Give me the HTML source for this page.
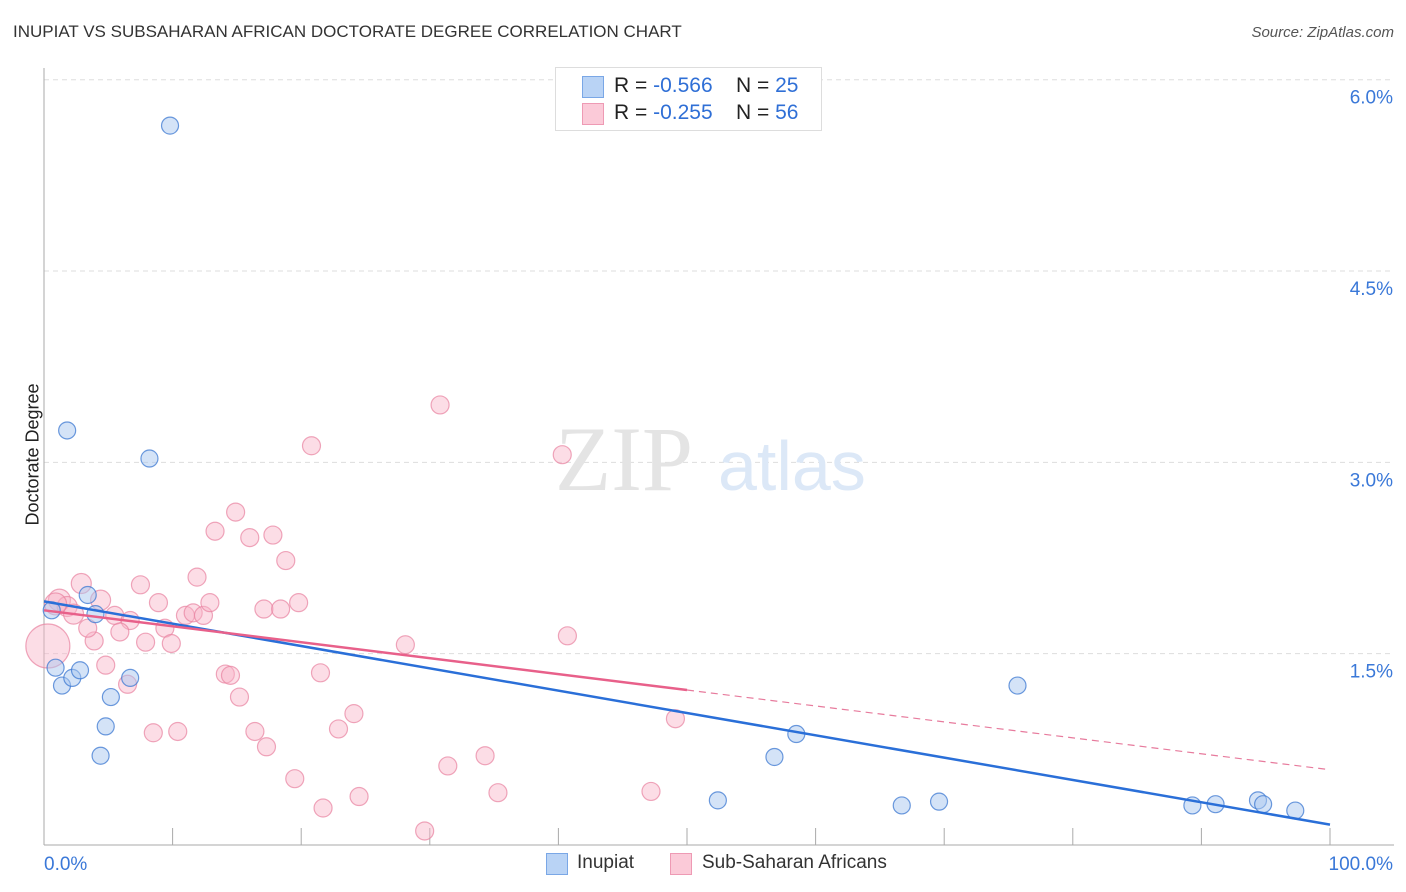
<!DOCTYPE html>
<html><head><meta charset="utf-8">
<style>
body{margin:0;background:#fff;font-family:"Liberation Sans",sans-serif;}
#wrap{position:relative;width:1406px;height:892px;overflow:hidden;}
.t{position:absolute;white-space:nowrap;}
</style></head>
<body>
<div id="wrap">
<div class="t" style="left:13px;top:22px;font-size:17px;color:#333;">INUPIAT VS SUBSAHARAN AFRICAN DOCTORATE DEGREE CORRELATION CHART</div>
<div class="t" style="right:12px;top:24px;font-size:15px;color:#555;font-style:italic;">Source: ZipAtlas.com</div>
<svg id="svg" width="1406" height="892" style="position:absolute;left:0;top:0"></svg>
<div class="t" style="left:-38px;top:444px;font-size:18px;color:#222;transform:rotate(-90deg);">Doctorate Degree</div>
<div style="position:absolute;left:555px;top:67px;width:265px;height:62px;border:1px solid #ddd;background:#fff;font-size:21px;">
 <div style="position:absolute;left:26px;top:8px;width:20px;height:20px;background:#b9d3f5;border:1px solid #7aa7e6;"></div>
 <div class="t" style="left:58px;top:6px;color:#222;">R = <span style="color:#2f6fd6">-0.566</span>&nbsp;&nbsp;&nbsp; N = <span style="color:#2f6fd6">25</span></div>
 <div style="position:absolute;left:26px;top:35px;width:20px;height:20px;background:#fbcad8;border:1px solid #ee9ab4;"></div>
 <div class="t" style="left:58px;top:33px;color:#222;">R = <span style="color:#2f6fd6">-0.255</span>&nbsp;&nbsp;&nbsp; N = <span style="color:#2f6fd6">56</span></div>
</div>
<div style="position:absolute;left:546px;top:853px;width:20px;height:20px;background:#b9d3f5;border:1px solid #7aa7e6;"></div>
<div class="t" style="left:577px;top:852px;font-size:19px;color:#333;">Inupiat</div>
<div style="position:absolute;left:670px;top:853px;width:20px;height:20px;background:#fbcad8;border:1px solid #ee9ab4;"></div>
<div class="t" style="left:702px;top:852px;font-size:19px;color:#333;">Sub-Saharan Africans</div>
</div>
<script>
const yTicks=[1.5,3.0,4.5,6.0];
const yTickLabels=["1.5%","3.0%","4.5%","6.0%"];
const xTickLabels=["0.0%","100.0%"];
const inupiatX=[9.8,1.8,8.2,0.6,3.4,4.0,0.9,1.4,2.2,2.8,6.7,5.2,4.8,4.4,75.7,58.5,56.8,52.4,66.7,69.6,89.3,91.1,94.4,94.8,97.3];
const inupiatY=[5.64,3.25,3.03,1.84,1.96,1.81,1.39,1.25,1.31,1.37,1.31,1.16,0.93,0.70,1.25,0.87,0.69,0.35,0.31,0.34,0.31,0.32,0.35,0.32,0.27];
const subX=[30.8,20.8,40.3,14.9,13.3,16.0,17.8,18.8,2.9,7.5,11.9,8.9,4.4,1.2,1.8,2.3,0.9,5.5,6.7,5.9,3.9,3.4,9.4,7.9,9.9,11.0,11.6,12.4,12.9,17.1,18.4,19.8,28.1,40.7,4.8,6.5,14.1,14.5,21.5,15.2,8.5,10.4,16.4,17.3,22.9,24.1,49.1,34.3,31.4,19.5,35.3,24.5,21.7,47.2,29.6,0.3];
const subY=[3.45,3.13,3.06,2.61,2.46,2.41,2.43,2.23,2.05,2.04,2.10,1.90,1.92,1.92,1.87,1.81,1.89,1.80,1.76,1.67,1.60,1.70,1.70,1.59,1.58,1.80,1.82,1.80,1.90,1.85,1.85,1.90,1.57,1.64,1.41,1.26,1.34,1.33,1.35,1.16,0.88,0.89,0.89,0.77,0.91,1.03,0.99,0.70,0.62,0.52,0.41,0.38,0.29,0.42,0.11,1.56];
const subR=[9,9,9,9,9,9,9,9,10,9,9,9,10,11,10,10,11,9,9,9,9,9,9,9,9,9,9,9,9,9,9,9,9,9,9,9,9,9,9,9,9,9,9,9,9,9,9,9,9,9,9,9,9,9,9,22];
const inupiatFit=[1.91,-0.0175];
const subFit=[1.84,-0.0125];
const subSolidEnd=50;
const X0=44,X1=1330,Y0=845,PX=127.55;
const xs=v=>X0+(X1-X0)*v/100, ys=v=>Y0-v*PX;
const svg=document.getElementById('svg'),NS='http://www.w3.org/2000/svg';
function mk(t,a){const e=document.createElementNS(NS,t);for(const k in a)e.setAttribute(k,a[k]);svg.appendChild(e);return e;}
yTicks.forEach((v,i)=>{
 const g=mk('line',{x1:44,x2:1394,y1:ys(v),y2:ys(v),stroke:'#ddd','stroke-dasharray':'5,4'});
 
 
 const t=mk('text',{x:1393,y:ys(v)+24,'text-anchor':'end','font-size':19,fill:'#3a78d8','font-family':'Liberation Sans'});
 t.textContent=yTickLabels[i];
 
 
});
let ax=mk('line',{x1:44,x2:44,y1:68,y2:845,stroke:'#aaa'});


ax=mk('line',{x1:44,x2:1394,y1:845,y2:845,stroke:'#aaa'});


for(let i=1;i<=10;i++){const tk=mk('line',{x1:xs(i*10),x2:xs(i*10),y1:828,y2:845,stroke:'#aaa'});
 
 }
[[0,'start',44],[100,'end',1393]].forEach((d,i)=>{const t=mk('text',{x:d[2],y:870,'text-anchor':d[1],'font-size':19,fill:'#3a78d8','font-family':'Liberation Sans'});t.textContent=xTickLabels[i];
 
 });
let w=mk('text',{x:555,y:490,'font-size':92,fill:'#e4e4e4','font-family':'Liberation Serif'});w.textContent='ZIP';


w=mk('text',{x:718,y:490,'font-size':70,fill:'#dce8f7','font-family':'Liberation Sans'});w.textContent='atlas';


subX.forEach((x,i)=>{const c=mk('circle',{cx:xs(x),cy:ys(subY[i]),r:subR[i],fill:'rgba(248,180,200,0.45)',stroke:'rgba(232,130,160,0.7)','stroke-width':1.2});
 
 });
inupiatX.forEach((x,i)=>{const c=mk('circle',{cx:xs(x),cy:ys(inupiatY[i]),r:8.5,fill:'rgba(170,200,240,0.5)',stroke:'rgba(60,120,210,0.75)','stroke-width':1.2});
 
 });
const f=(p,x)=>p[0]+p[1]*x;
let l=mk('line',{x1:xs(subSolidEnd),y1:ys(f(subFit,subSolidEnd)),x2:xs(100),y2:ys(f(subFit,100)),stroke:'#e77b9d','stroke-width':1.2,'stroke-dasharray':'7,5'});


l=mk('line',{x1:xs(0),y1:ys(f(inupiatFit,0)),x2:xs(100),y2:ys(f(inupiatFit,100)),stroke:'#2a6fd8','stroke-width':2.5});


l=mk('line',{x1:xs(0),y1:ys(f(subFit,0)),x2:xs(subSolidEnd),y2:ys(f(subFit,subSolidEnd)),stroke:'#e8608a','stroke-width':2.5});


</script>
</body></html>
